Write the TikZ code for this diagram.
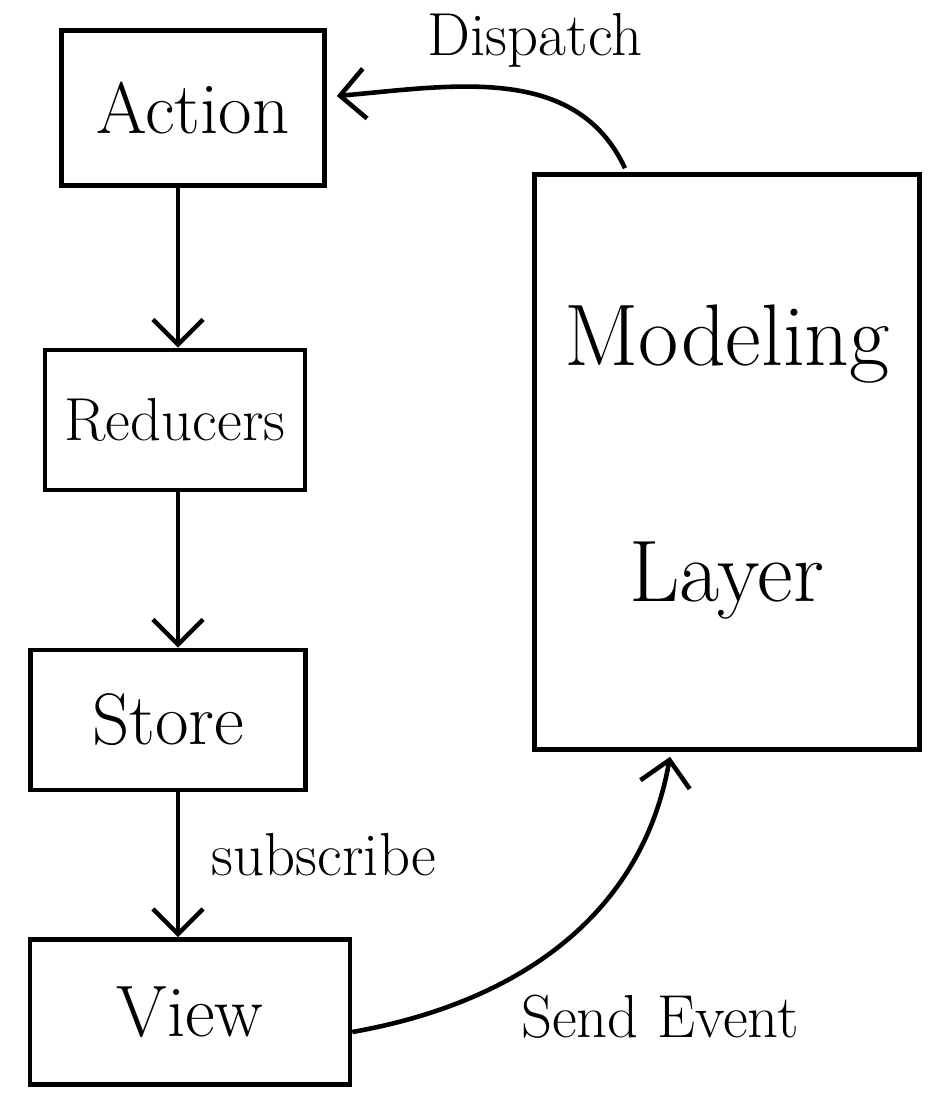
\documentclass[tikz,border=0pt]{standalone}
\usetikzlibrary{calc,arrows.meta}
\begin{document}
\begin{tikzpicture}[x=0.1mm,y=0.1mm,
    box/.style={draw, line width=1.3pt, font=\huge, inner sep=0pt},
    arr/.style={-{Straight Barb[length=2.5mm,width=5mm]}, line width=1.3pt},
    lbl/.style={font=\LARGE}]
  \useasboundingbox (0,0) rectangle (949,1109);
  % left column
  \node[box, minimum width=2.63cm, minimum height=1.55cm] (action) at (193,1001) {Action};
  \node[box, font=\LARGE, minimum width=2.6cm, minimum height=1.4cm] (reducers) at (175,689) {Reducers};
  \node[box, minimum width=2.75cm, minimum height=1.4cm] (store) at (168,389) {Store};
  \node[box, minimum width=3.2cm, minimum height=1.45cm] (view) at (190,97) {View};
  \coordinate (spine) at (178,0);
  % right box
  \node[box, font=\Huge, align=center, minimum width=3.85cm, minimum height=5.75cm] (modeling) at (727,647)
    {Modeling\\[1.3cm]Layer};
  % flow
  \draw[arr] (action.south -| spine) -- (reducers.north -| spine);
  \draw[arr] (reducers.south -| spine) -- (store.north -| spine);
  \draw[arr] (store.south -| spine) -- node[lbl, right=2mm, yshift=1mm] {subscribe} (view.north -| spine);
  \draw[arr] ($(view.east)+(0,-20)$) to[out=10, in=-100] ($(modeling.south)+(-57,-5)$);
  \node[lbl] (sendlbl) at (660,92) {Send Event};
  \draw[arr] ($(modeling.north)+(-102,4)$) to[out=115, in=5] ($(action.east)+(10,12)$);
  \node[lbl] (dispatch) at (535,1069) {Dispatch};
\end{tikzpicture}
\end{document}
